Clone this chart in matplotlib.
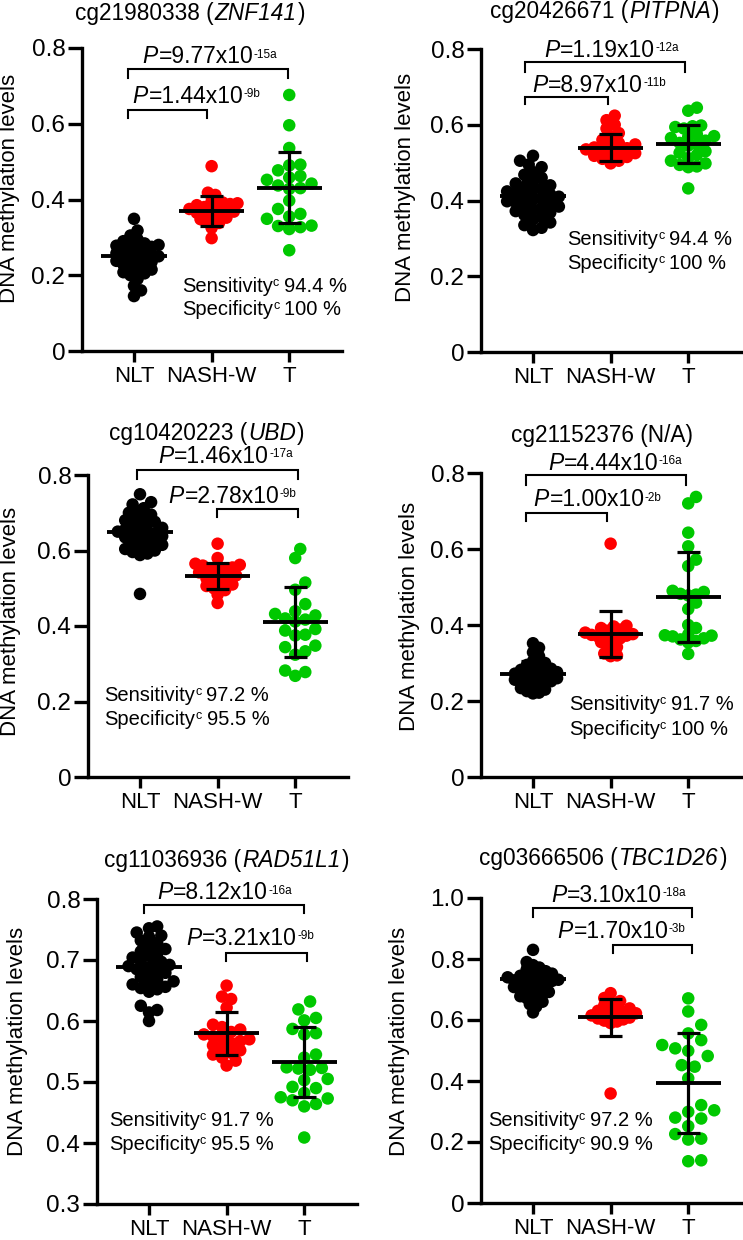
import numpy as np
import matplotlib
matplotlib.use("Agg")
import matplotlib.pyplot as plt
from matplotlib.transforms import offset_copy, Affine2D

plt.rcParams['font.family'] = ['Liberation Sans', 'DejaVu Sans']

W, H, DPI = 743, 1240, 100

groups = ["NLT", "NASH-W", "T"]
colors = ["#000000", "#FF0000", "#00C800"]

# ---------------- data ----------------
# Panel 1: cg21980338 (ZNF141)
p1_nlt = [0.349, 0.318, 0.305, 0.295, 0.290, 0.284, 0.282, 0.280, 0.278, 0.275, 0.272, 0.268,
          0.265, 0.262, 0.258, 0.255, 0.252, 0.250, 0.247, 0.244, 0.240, 0.238, 0.235, 0.232,
          0.228, 0.224, 0.220, 0.215, 0.210, 0.208, 0.205, 0.200, 0.190, 0.172, 0.160, 0.145]
p1_nash = [0.488, 0.418, 0.412, 0.395, 0.392, 0.390, 0.388, 0.385, 0.380, 0.378, 0.375,
           0.372, 0.368, 0.365, 0.362, 0.358, 0.352, 0.348, 0.342, 0.338, 0.325, 0.298]
p1_t = [0.676, 0.596, 0.536, 0.492, 0.490, 0.477, 0.462, 0.458, 0.452, 0.442, 0.437, 0.430,
        0.428, 0.397, 0.375, 0.362, 0.355, 0.349, 0.331, 0.330, 0.327, 0.322, 0.266]
p1_mean = [0.250, 0.370, 0.430]
p1_sd_lo = [0.215, 0.330, 0.338]
p1_sd_hi = [0.285, 0.409, 0.525]
p1_p = [("1.44x10", "-9b"), ("9.77x10", "-15a")]
p1_sens = ["94.4", "100"]

# Panel 2: cg20426671 (PITPNA)
p2_nlt = [0.518, 0.505, 0.495, 0.488, 0.475, 0.468, 0.460, 0.452, 0.445, 0.440, 0.436, 0.432,
          0.428, 0.424, 0.420, 0.416, 0.413, 0.410, 0.406, 0.402, 0.398, 0.395, 0.392, 0.388,
          0.384, 0.380, 0.376, 0.372, 0.368, 0.362, 0.356, 0.350, 0.342, 0.335, 0.328, 0.322]
p2_nash = [0.624, 0.612, 0.600, 0.590, 0.578, 0.570, 0.560, 0.552, 0.548, 0.545, 0.540,
           0.538, 0.535, 0.532, 0.528, 0.525, 0.522, 0.518, 0.515, 0.510, 0.505, 0.498]
p2_t = [0.645, 0.637, 0.598, 0.596, 0.594, 0.590, 0.575, 0.570, 0.568, 0.565, 0.558, 0.552,
        0.548, 0.545, 0.530, 0.526, 0.520, 0.512, 0.505, 0.498, 0.494, 0.490, 0.488, 0.432]
p2_mean = [0.412, 0.539, 0.548]
p2_sd_lo = [0.372, 0.503, 0.500]
p2_sd_hi = [0.452, 0.575, 0.600]
p2_p = [("8.97x10", "-11b"), ("1.19x10", "-12a")]
p2_sens = ["94.4", "100"]

# Panel 3: cg10420223 (UBD)
p3_nlt = [0.749, 0.728, 0.722, 0.712, 0.705, 0.700, 0.695, 0.690, 0.685, 0.680, 0.676, 0.672,
          0.668, 0.664, 0.660, 0.656, 0.652, 0.650, 0.648, 0.645, 0.642, 0.638, 0.635, 0.632,
          0.628, 0.624, 0.620, 0.615, 0.612, 0.608, 0.604, 0.600, 0.596, 0.592, 0.588, 0.485]
p3_nash = [0.618, 0.580, 0.565, 0.562, 0.560, 0.558, 0.555, 0.550, 0.546, 0.542, 0.538,
           0.534, 0.530, 0.526, 0.520, 0.515, 0.510, 0.506, 0.500, 0.495, 0.483, 0.461]
p3_t = [0.604, 0.580, 0.515, 0.496, 0.458, 0.439, 0.432, 0.428, 0.420, 0.417, 0.412, 0.392,
        0.388, 0.377, 0.375, 0.348, 0.344, 0.333, 0.324, 0.282, 0.278, 0.268]
p3_mean = [0.648, 0.533, 0.410]
p3_sd_lo = [0.602, 0.497, 0.318]
p3_sd_hi = [0.694, 0.567, 0.502]
p3_p = [("2.78x10", "-9b"), ("1.46x10", "-17a")]
p3_sens = ["97.2", "95.5"]

# Panel 4: cg21152376 (N/A)
p4_nlt = [0.352, 0.340, 0.328, 0.318, 0.305, 0.300, 0.295, 0.290, 0.288, 0.285, 0.282, 0.280,
          0.278, 0.276, 0.274, 0.272, 0.270, 0.268, 0.266, 0.264, 0.262, 0.260, 0.258, 0.256,
          0.254, 0.252, 0.250, 0.248, 0.245, 0.242, 0.238, 0.234, 0.230, 0.226, 0.222, 0.220]
p4_nash = [0.614, 0.398, 0.396, 0.392, 0.388, 0.385, 0.380, 0.378, 0.376, 0.374, 0.372,
           0.370, 0.368, 0.365, 0.360, 0.355, 0.350, 0.342, 0.335, 0.325, 0.320, 0.318]
p4_t = [0.737, 0.720, 0.643, 0.607, 0.572, 0.555, 0.490, 0.487, 0.482, 0.480, 0.478, 0.459,
        0.442, 0.400, 0.392, 0.375, 0.373, 0.372, 0.370, 0.365, 0.362, 0.358, 0.354, 0.324]
p4_mean = [0.272, 0.376, 0.475]
p4_sd_lo = [0.240, 0.316, 0.356]
p4_sd_hi = [0.304, 0.436, 0.592]
p4_p = [("1.00x10", "-2b"), ("4.44x10", "-16a")]
p4_sens = ["91.7", "100"]

# Panel 5: cg11036936 (RAD51L1)
p5_nlt = [0.755, 0.752, 0.745, 0.740, 0.738, 0.732, 0.728, 0.722, 0.718, 0.714, 0.710, 0.707,
          0.704, 0.700, 0.697, 0.694, 0.692, 0.690, 0.688, 0.685, 0.682, 0.679, 0.676, 0.672,
          0.668, 0.665, 0.662, 0.660, 0.656, 0.654, 0.652, 0.648, 0.625, 0.618, 0.614, 0.600]
p5_nash = [0.658, 0.640, 0.636, 0.622, 0.594, 0.590, 0.586, 0.582, 0.578, 0.575, 0.572,
           0.570, 0.567, 0.564, 0.560, 0.556, 0.552, 0.548, 0.545, 0.540, 0.535, 0.527]
p5_t = [0.632, 0.619, 0.605, 0.601, 0.587, 0.580, 0.578, 0.545, 0.540, 0.524, 0.523, 0.522,
        0.520, 0.505, 0.503, 0.492, 0.490, 0.482, 0.475, 0.473, 0.470, 0.464, 0.460, 0.409]
p5_mean = [0.689, 0.580, 0.533]
p5_sd_lo = [0.655, 0.545, 0.476]
p5_sd_hi = [0.722, 0.615, 0.590]
p5_p = [("3.21x10", "-9b"), ("8.12x10", "-16a")]
p5_sens = ["91.7", "95.5"]

# Panel 6: cg03666506 (TBC1D26)
p6_nlt = [0.830, 0.790, 0.780, 0.772, 0.765, 0.760, 0.756, 0.752, 0.748, 0.745, 0.742, 0.740,
          0.738, 0.735, 0.732, 0.730, 0.728, 0.725, 0.722, 0.720, 0.716, 0.712, 0.708, 0.704,
          0.700, 0.696, 0.692, 0.688, 0.684, 0.678, 0.672, 0.666, 0.660, 0.652, 0.644, 0.625]
p6_nash = [0.688, 0.672, 0.662, 0.655, 0.648, 0.642, 0.638, 0.634, 0.630, 0.626, 0.622,
           0.620, 0.618, 0.615, 0.612, 0.608, 0.605, 0.602, 0.598, 0.595, 0.590, 0.359]
p6_t = [0.671, 0.628, 0.584, 0.556, 0.534, 0.518, 0.507, 0.499, 0.482, 0.452, 0.447, 0.409,
        0.321, 0.304, 0.299, 0.280, 0.277, 0.252, 0.226, 0.211, 0.208, 0.140, 0.137]
p6_mean = [0.734, 0.609, 0.392]
p6_sd_lo = [0.690, 0.548, 0.231]
p6_sd_hi = [0.778, 0.669, 0.556]
p6_p = [("1.70x10", "-3b"), ("3.10x10", "-18a")]
p6_sens = ["97.2", "90.9"]

ticks_a = [0, 0.2, 0.4, 0.6, 0.8]
ticklabels_a = ["0", "0.2", "0.4", "0.6", "0.8"]
ticks_5 = [0.3, 0.4, 0.5, 0.6, 0.7, 0.8]
ticklabels_5 = ["0.3", "0.4", "0.5", "0.6", "0.7", "0.8"]
ticks_6 = [0, 0.2, 0.4, 0.6, 0.8, 1.0]
ticklabels_6 = ["0", "0.2", "0.4", "0.6", "0.8", "1.0"]

panels = [
    dict(title=("cg21980338 (", "ZNF141", ")"), data=[p1_nlt, p1_nash, p1_t], mean=p1_mean,
         lo=p1_sd_lo, hi=p1_sd_hi, p=p1_p, sens=p1_sens, ticks=ticks_a, tl=ticklabels_a),
    dict(title=("cg20426671 (", "PITPNA", ")"), data=[p2_nlt, p2_nash, p2_t], mean=p2_mean,
         lo=p2_sd_lo, hi=p2_sd_hi, p=p2_p, sens=p2_sens, ticks=ticks_a, tl=ticklabels_a),
    dict(title=("cg10420223 (", "UBD", ")"), data=[p3_nlt, p3_nash, p3_t], mean=p3_mean,
         lo=p3_sd_lo, hi=p3_sd_hi, p=p3_p, sens=p3_sens, ticks=ticks_a, tl=ticklabels_a),
    dict(title=("cg21152376 (N/A)", "", ""), data=[p4_nlt, p4_nash, p4_t], mean=p4_mean,
         lo=p4_sd_lo, hi=p4_sd_hi, p=p4_p, sens=p4_sens, ticks=ticks_a, tl=ticklabels_a),
    dict(title=("cg11036936 (", "RAD51L1", ")"), data=[p5_nlt, p5_nash, p5_t], mean=p5_mean,
         lo=p5_sd_lo, hi=p5_sd_hi, p=p5_p, sens=p5_sens, ticks=ticks_5, tl=ticklabels_5),
    dict(title=("cg03666506 (", "TBC1D26", ")"), data=[p6_nlt, p6_nash, p6_t], mean=p6_mean,
         lo=p6_sd_lo, hi=p6_sd_hi, p=p6_p, sens=p6_sens, ticks=ticks_6, tl=ticklabels_6),
]

# ---------------- layout (pixels) ----------------
layout = [
    dict(left=82, top=48, bot=351, title=(190, 20), ylab=(10, 188),
         br=[(0.92, 1.94, 0.636, 0.615, 1.80, 0.655), (0.92, 2.99, 0.745, 0.721, 1.98, 0.760)],
         sens=(1.62, 0.156, 0.095)),
    dict(left=481, top=49, bot=352, title=(605, 18), ylab=(406, 187),
         br=[(0.90, 1.97, 0.673, 0.655, 1.85, 0.687), (0.90, 2.96, 0.766, 0.739, 2.01, 0.779)],
         sens=(1.44, 0.283, 0.219)),
    dict(left=88, top=475, bot=777, title=(207, 440), ylab=(11, 621),
         br=[(1.99, 3.03, 0.710, 0.689, 2.19, 0.726), (0.96, 3.03, 0.813, 0.789, 2.10, 0.832)],
         sens=(0.54, 0.201, 0.138)),
    dict(left=481, top=473, bot=777, title=(602, 442), ylab=(409, 616),
         br=[(0.91, 1.95, 0.694, 0.673, 1.83, 0.713), (0.91, 2.97, 0.795, 0.768, 2.06, 0.808)],
         sens=(1.46, 0.175, 0.111)),
    dict(left=97, top=899, bot=1204, title=(227, 867), ylab=(18, 1041),
         br=[(1.99, 3.03, 0.711, 0.698, 2.30, 0.725), (0.935, 3.0, 0.790, 0.777, 1.97, 0.800)],
         sens=(0.48, 0.428, 0.389)),
    dict(left=481, top=898, bot=1203, title=(603, 865), ylab=(399, 1041),
         br=[(2.03, 3.05, 0.846, 0.820, 2.14, 0.869), (1.0, 3.05, 0.967, 0.938, 2.10, 0.987)],
         sens=(0.42, 0.252, 0.174)),
]

XLIM = (0.33, 3.68)
AX_W = 260
DOT_PX = 12.5
SPINE_LW = 2.4
MAX_SPREAD_PX = 26

fig = plt.figure(figsize=(W / DPI, H / DPI), dpi=DPI)
fig.patch.set_facecolor("white")
renderer = fig.canvas.get_renderer()
pix = Affine2D().scale(1, -1).translate(0, H)  # top-left pixel coords -> display


def rich(base_trans, x, y, pieces, ha="center"):
    """pieces: (text, size, italic, rise_px, gap_px)"""
    objs = []
    widths = []
    for s, size, italic, rise, gap in pieces:
        t = fig.text(0, 0, s, fontsize=size, style="italic" if italic else "normal",
                     ha="left", va="baseline", color="black")
        bb = t.get_window_extent(renderer)
        objs.append(t)
        widths.append(bb.width + gap)
    total = sum(widths)
    cur = {"center": -total / 2, "left": 0, "right": -total}[ha]
    for t, (s, size, italic, rise, gap), w in zip(objs, pieces, widths):
        t.set_position((x, y))
        t.set_transform(offset_copy(base_trans, x=cur + gap, y=rise, units="dots"))
        t.set_clip_on(False)
        t.set_zorder(10)
        cur += w
    return objs


def swarm_once(vals, ppy, dmin):
    order = np.argsort(vals)
    placed = []
    offs = np.zeros(len(vals))
    step = dmin * 0.5
    cands = [0]
    for k in range(1, 60):
        cands += [k, -k]
    for i in order:
        yv = vals[i] * ppy
        for c in cands:
            xo = c * step
            ok = True
            for (px, py) in placed:
                if (px - xo) ** 2 + (py - yv) ** 2 < dmin ** 2:
                    ok = False
                    break
            if ok:
                break
        placed.append((xo, yv))
        offs[i] = xo
    return offs


def swarm(vals, ppy, ppx, dmin=13.0):
    vals = np.asarray(vals, float)
    offs = swarm_once(vals, ppy, dmin)
    while np.abs(offs).max() > MAX_SPREAD_PX and dmin > 3:
        dmin *= 0.95
        offs = swarm_once(vals, ppy, dmin)
    return offs / ppx


for P, L in zip(panels, layout):
    hpx = L["bot"] - L["top"]
    ax = fig.add_axes([L["left"] / W, 1 - L["bot"] / H, AX_W / W, hpx / H])
    ylo, yhi = P["ticks"][0], P["ticks"][-1]
    ax.set_xlim(*XLIM)
    ax.set_ylim(ylo, yhi)
    ppx = AX_W / (XLIM[1] - XLIM[0])
    ppy = hpx / (yhi - ylo)
    xs = np.arange(1, 4)
    for gi, (vals, col) in enumerate(zip(P["data"], colors)):
        offs = swarm(vals, ppy, ppx)
        ax.scatter(xs[gi] + offs, vals, s=(DOT_PX * 72 / DPI) ** 2, color=col,
                   edgecolors="none", zorder=2, clip_on=False)
        ax.hlines(P["mean"][gi], xs[gi] - 0.42, xs[gi] + 0.42, color="black", lw=2.8, zorder=3)
        ax.vlines(xs[gi], P["lo"][gi], P["hi"][gi], color="black", lw=2.3, zorder=3)
        ax.hlines([P["lo"][gi], P["hi"][gi]], xs[gi] - 0.15, xs[gi] + 0.15, color="black",
                  lw=2.3, zorder=3)
    # axes styling
    for side in ("top", "right"):
        ax.spines[side].set_visible(False)
    for side in ("left", "bottom"):
        ax.spines[side].set_linewidth(SPINE_LW)
        ax.spines[side].set_capstyle("projecting")
    ax.set_yticks(P["ticks"])
    ax.set_yticklabels(P["tl"])
    ax.set_xticks(xs)
    ax.set_xticklabels(groups)
    ax.tick_params(axis="y", length=10, width=SPINE_LW, labelsize=17.5, pad=2)
    ax.tick_params(axis="x", length=8, width=SPINE_LW, labelsize=16, pad=3)
    ax.patch.set_alpha(0)
    ax.set_ylabel("DNA methylation levels", fontsize=16)
    ax.yaxis.label.set_va("center")
    ax.yaxis.set_label_coords(L["ylab"][0] / W, 1 - L["ylab"][1] / H, transform=fig.transFigure)
    # brackets and p values
    for (x1, x2, yb, yl, tx, ty), (pm, ps) in zip(L["br"], P["p"]):
        ax.plot([x1, x1, x2, x2], [yl, yb, yb, yl], color="black", lw=1.5, clip_on=False,
                solid_joinstyle="miter", zorder=4)
        dpt = ax.transData.transform((tx, ty))
        rich(Affine2D(), dpt[0], dpt[1],
             [("P", 16.5, True, 0, 0), ("=" + pm, 16.5, False, 0, 1), (ps, 8.5, False, 5.5, 0)])
    # sensitivity / specificity
    sx, sy1, sy2 = L["sens"]
    for lab, val, yy in (("Sensitivity", P["sens"][0], sy1), ("Specificity", P["sens"][1], sy2)):
        dpt = ax.transData.transform((sx, yy))
        rich(Affine2D(), dpt[0], dpt[1],
             [(lab, 14.5, False, 0, 0), ("c", 9, False, 6, 0), (val + " %", 14.5, False, 0, 5)],
             ha="left")
    # title
    t1, t2, t3 = P["title"]
    pieces = [(t1, 16.3, False, 0, 0)]
    if t2:
        pieces += [(t2, 16.3, True, 0, 1), (t3, 16.3, False, 0, 1)]
    rich(pix, L["title"][0], L["title"][1], pieces)

fig.savefig("out.png", dpi=DPI, facecolor="white")
